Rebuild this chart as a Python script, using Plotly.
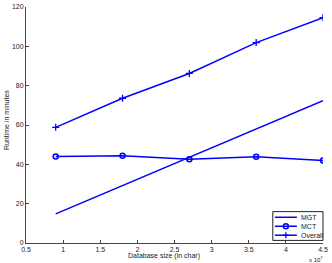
import plotly.graph_objects as go

db_size = [0.9, 1.8, 2.7, 3.6, 4.5]
mgt = [14.8, 29.2, 43.6, 58.1, 72.4]
mct = [44.0, 44.4, 42.6, 43.8, 42.0]
overall = [58.8, 73.6, 86.2, 101.9, 114.6]
series_names = ["MGT", "MCT", "Overall"]

x_ticks = [0.5, 1, 1.5, 2, 2.5, 3, 3.5, 4, 4.5]
x_ticklabels = ["0.5", "1", "1.5", "2", "2.5", "3", "3.5", "4", "4.5"]
y_ticks = [0, 20, 40, 60, 80, 100, 120]

blue = "#0000ff"
font = "Liberation Sans, Arial, sans-serif"
txt = "#222"
lw = 1.5

fig = go.Figure()
fig.add_trace(go.Scatter(x=db_size, y=mgt, name=series_names[0], mode="lines",
                         line=dict(color=blue, width=lw)))
fig.add_trace(go.Scatter(x=db_size, y=mct, name=series_names[1], mode="lines+markers",
                         line=dict(color=blue, width=lw),
                         marker=dict(symbol="circle-open", size=5, color=blue,
                                     line=dict(width=1.5, color=blue))))
fig.add_trace(go.Scatter(x=db_size, y=overall, name=series_names[2], mode="lines+markers",
                         line=dict(color=blue, width=lw),
                         marker=dict(symbol="cross-thin-open", size=5, color=blue,
                                     line=dict(width=1.3, color=blue))))

axis_common = dict(showgrid=False, zeroline=False, showline=True, linecolor="#444",
                   linewidth=1, ticks="inside", ticklen=3, tickcolor="#444",
                   tickfont=dict(family=font, size=7, color=txt), mirror=False,
                   automargin=False)

# custom compact legend (paper coordinates)
shapes = [dict(type="rect", xref="paper", yref="paper", x0=0.831, x1=1.0,
               y0=0.011, y1=0.133, line=dict(color="#222", width=1),
               fillcolor="white", layer="above")]
annotations = []
legend_y = [0.109, 0.071, 0.033]
for i, (name, ly) in enumerate(zip(series_names, legend_y)):
    shapes.append(dict(type="line", xref="paper", yref="paper", x0=0.838, x1=0.912,
                       y0=ly, y1=ly, line=dict(color=blue, width=lw), layer="above"))
    annotations.append(dict(text=name, xref="paper", yref="paper", x=0.918, y=ly,
                            xanchor="left", yanchor="middle", showarrow=False,
                            font=dict(family=font, size=7, color=txt)))
# MCT legend marker (circle)
shapes.append(dict(type="circle", xref="paper", yref="paper", xsizemode="pixel",
                   ysizemode="pixel", xanchor=0.875, yanchor=legend_y[1],
                   x0=-2.5, x1=2.5, y0=-2.5, y1=2.5,
                   line=dict(color=blue, width=1.5), layer="above"))
# Overall legend marker (plus)
shapes.append(dict(type="line", xref="paper", yref="paper", xsizemode="pixel",
                   xanchor=0.875, x0=-3, x1=3, y0=legend_y[2], y1=legend_y[2],
                   line=dict(color=blue, width=1.3), layer="above"))
shapes.append(dict(type="line", xref="paper", yref="paper", ysizemode="pixel",
                   yanchor=legend_y[2], y0=-3, y1=3, x0=0.875, x1=0.875,
                   line=dict(color=blue, width=1.3), layer="above"))

annotations += [
    dict(text="Database size (in char)", xref="paper", yref="paper",
         x=0.463, y=-0.053, xanchor="center", yanchor="middle", showarrow=False,
         font=dict(family=font, size=7, color=txt)),
    dict(text="Runtime in minutes", xref="paper", yref="paper", textangle=-90,
         x=-0.068, y=0.52, xanchor="center", yanchor="middle", showarrow=False,
         font=dict(family=font, size=7, color=txt)),
    dict(text="x 10<sup>7</sup>", xref="paper", yref="paper",
         x=1.006, y=-0.068, xanchor="right", yanchor="middle",
         showarrow=False, font=dict(family=font, size=6, color=txt)),
]

fig.update_layout(
    width=332, height=263,
    margin=dict(l=25.5, r=9, t=7, b=20),
    paper_bgcolor="white", plot_bgcolor="white",
    font=dict(family=font, size=7, color=txt),
    xaxis=dict(range=[0.5, 4.5], tickvals=x_ticks, ticktext=x_ticklabels,
               **axis_common),
    yaxis=dict(range=[0, 120], tickvals=y_ticks, **axis_common),
    showlegend=False,
    shapes=shapes,
    annotations=annotations,
)

fig.write_html("out.html", config={"displayModeBar": False},
               post_script="document.body.style.margin='0';document.body.style.overflow='hidden';")
